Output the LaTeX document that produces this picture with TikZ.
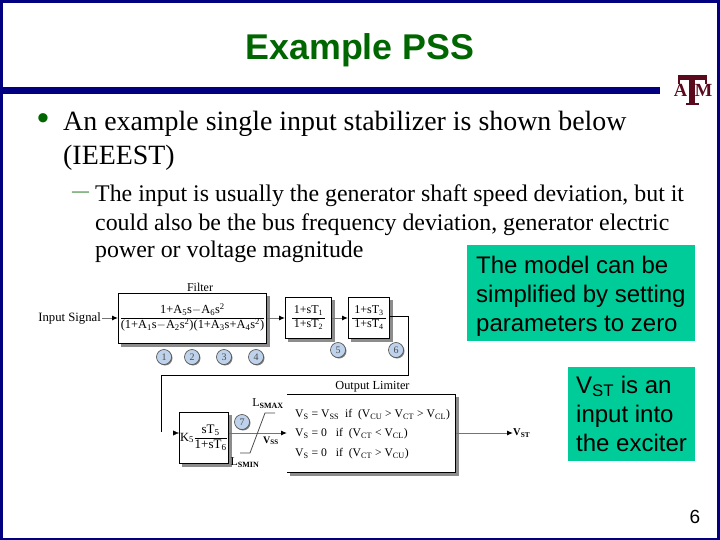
\documentclass[tikz,border=0pt]{standalone}
\usepackage{fontspec}
\setmainfont{Liberation Serif}
\newfontfamily\arialf{Liberation Sans}
\usetikzlibrary{arrows.meta,shadows}
\definecolor{navyb}{RGB}{0,0,128}
\definecolor{titlegreen}{RGB}{0,102,0}
\definecolor{notegreen}{RGB}{0,204,153}
\definecolor{maroonb}{RGB}{91,10,30}
\definecolor{circb}{RGB}{190,210,235}
\newcommand{\fsz}[1]{\fontsize{#1}{#1}\selectfont}
\newcommand{\sbs}[1]{\textsubscript{#1}}
\newcommand{\sps}[1]{\textsuperscript{#1}}
\newcommand{\frc}[2]{\renewcommand{\arraystretch}{1.15}\setlength{\tabcolsep}{1pt}\begin{tabular}{@{}c@{}}#1\\\hline #2\end{tabular}}
\tikzset{
 x=1pt,y=1pt,
 body/.style={anchor=base west,inner sep=0,font=\fsz{27.9},text=black},
 sub/.style={anchor=base west,inner sep=0,font=\fsz{23.85},text=black},
 notetxt/.style={anchor=base west,inner sep=0,font=\arialf\fsz{24},text=black},
 tfbox/.style={draw=black,line width=0.9pt,fill=white,inner sep=0,anchor=north west},
 shade/.style={fill=black!45,draw=none},
 num/.style={circle,draw=black!70,line width=0.6pt,fill=circb,minimum size=15pt,inner sep=0,font=\fsz{10},text=black!70,drop shadow={shadow xshift=1pt,shadow yshift=-1pt,fill=black!50,opacity=1}},
 lab/.style={inner sep=0,font=\fsz{12},text=black},
 wire/.style={draw=black,line width=0.8pt},
 sig/.style={draw=black!55,line width=1pt,-{Latex[black,length=6pt,width=5pt]}},
 logo/.style={inner sep=0,font=\bfseries\fsz{18.5},text=maroonb}
}
\begin{document}
\begin{tikzpicture}
\useasboundingbox (0,0) rectangle (720,-540);
\fill[white] (0,0) rectangle (720,-540);
% frame
\fill[navyb] (0,0) rectangle (720,-3);
\fill[navyb] (0,0) rectangle (3,-540);
\fill[navyb] (717,0) rectangle (720,-540);
\fill[navyb] (0,-538) rectangle (720,-540);
\fill[navyb] (3,-87) rectangle (660,-94);
% title
\node[inner sep=0,anchor=base,font=\arialf\bfseries\fsz{35.8},text=titlegreen] (title) at (360,-60) {Example PSS};
% logo
\fill[maroonb] (678,-75) rectangle (707,-80);
\fill[maroonb] (678,-75) rectangle (680,-84);
\fill[maroonb] (705,-75) rectangle (707,-84);
\fill[maroonb] (688.5,-75) rectangle (695,-103);
\fill[maroonb] (686,-103) rectangle (699,-105.5);
\node[logo,anchor=base] (logoa) at (680.5,-97) {A};
\node[logo,anchor=base] (logom) at (703.5,-97) {M};
% text
\node[inner sep=0,anchor=base,font=\arialf\fsz{34},text=titlegreen] (bul) at (43,-130) {•};
\node[body] (l1) at (63,-131) {An example single input stabilizer is shown below};
\node[body] (l2) at (63,-165) {(IEEEST)};
\node[inner sep=0,anchor=base west,font=\fsz{17},text=titlegreen] (dash) at (72,-196.3) {—};
\node[sub] (s1) at (95,-202) {The input is usually the generator shaft speed deviation, but it};
\node[sub] (s2) at (95,-230) {could also be the bus frequency deviation, generator electric};
\node[sub] (s3) at (95,-258) {power or voltage magnitude};
% notes
\fill[notegreen] (467,-245) rectangle (695,-341);
\node[notetxt] (n1) at (476,-273) {The model can be};
\node[notetxt] (n2) at (476,-302) {simplified by setting};
\node[notetxt] (n3) at (476,-331) {parameters to zero};
\fill[notegreen] (568,-367) rectangle (695,-461);
\node[notetxt] (n4) at (576,-393) {V\sbs{ST} is an};
\node[notetxt] (n5) at (576,-422) {input into};
\node[notetxt] (n6) at (576,-451) {the exciter};
\node[inner sep=0,anchor=base,font=\arialf\fsz{19}] (pg) at (695,-523) {6};
% shadows
\fill[shade] (121,-296) rectangle (270,-347);
\fill[shade] (288,-300) rectangle (335,-342);
\fill[shade] (351,-300) rectangle (393,-342);
\fill[shade] (182,-415) rectangle (232,-467);
\fill[shade] (290,-397) rectangle (459,-476);
% boxes
\node[tfbox,minimum width=148pt,minimum height=50pt] (filter) at (118,-293) {};
\node[lab,font=\fsz{12.4}] at (filter.center) {\frc{1+A\sbs{5}s$-$A\sbs{6}s\sps{2}}{(1+A\sbs{1}s$-$A\sbs{2}s\sps{2})(1+A\sbs{3}s+A\sbs{4}s\sps{2})}};
\node[tfbox,minimum width=46pt,minimum height=41pt] (lead1) at (285,-297) {};
\node[lab,font=\fsz{12}] at (lead1.center) {\frc{\,1+sT\sbs{1}\,}{1+sT\sbs{2}}};
\node[tfbox,minimum width=41pt,minimum height=41pt] (lead2) at (348,-297) {};
\node[lab,font=\fsz{12}] at (lead2.center) {\frc{\,1+sT\sbs{3}\,}{1+sT\sbs{4}}};
\node[tfbox,minimum width=49pt,minimum height=51pt] (wash) at (179,-412) {};
\node[lab,font=\fsz{12.5},anchor=west] at ([xshift=1pt]wash.west) {K\sbs{5}};
\node[lab,font=\fsz{13},anchor=west] at ([xshift=15.5pt]wash.west) {\frc{sT\sbs{5}}{1+sT\sbs{6}}};
\node[tfbox,minimum width=168pt,minimum height=78pt,draw=none] (limit) at (287,-394) {};
\draw[black,line width=0.9pt] (limit.north west) -- (limit.north east) -- (limit.south east) -- (limit.south west);
% labels
\node[lab] (flab) at (200,-287) {Filter};
\node[lab,anchor=east,font=\fsz{12.7}] (inp) at (101,-318) {Input Signal};
\coordinate (inpe) at (102,-318);
\node[lab,font=\fsz{12.3}] (olab) at (372.5,-387) {Output Limiter};
\node[lab,anchor=west,font=\fsz{11.7}] (c1) at (295,-415) {V\sbs{S} = V\sbs{SS}\ \ if\ \ (V\sbs{CU} > V\sbs{CT} > V\sbs{CL})};
\node[lab,anchor=west,font=\fsz{11.7}] (c2) at (295,-434) {V\sbs{S} = 0\ \ \ if\ \ (V\sbs{CT} < V\sbs{CL})};
\node[lab,anchor=west,font=\fsz{11.7}] (c3) at (295,-454) {V\sbs{S} = 0\ \ \ if\ \ (V\sbs{CT} > V\sbs{CU})};
\node[lab,anchor=west,font=\bfseries\fsz{10.5}] (vst) at (513,-433) {V\sbs{ST}};
\node[lab,font=\fsz{12}] (lmax) at (268,-404) {L{\bfseries\sbs{SMAX}}};
\node[lab,font=\bfseries\fsz{10}] (vss) at (271,-441) {V\sbs{SS}};
\node[lab,font=\fsz{12}] (lmin) at (245,-463) {L{\bfseries\sbs{SMIN}}};
% circles
\node[num] (c_1) at (164,-357) {1};
\node[num] (c_2) at (192,-357) {2};
\node[num] (c_3) at (224,-357) {3};
\node[num] (c_4) at (256,-357) {4};
\node[num] (c_5) at (338,-350) {5};
\node[num] (c_6) at (396,-350) {6};
\node[num] (c_7) at (242,-422) {7};
% connectors
\draw[sig] (inpe) -- (filter.west |- inpe);
\draw[sig] (filter.east |- 0,-318) -- (lead1.west |- 0,-318);
\draw[sig] (lead1.east |- 0,-318) -- (lead2.west |- 0,-318);
\coordinate (w1) at (408,-316);
\coordinate (w2) at (408,-375);
\coordinate (w3) at (161,-375);
\coordinate (w4) at (161,-432);
\coordinate (w5) at (172,-433);
\draw[wire] (lead2.east |- w1) -- (w1) -- (w2) -- (w3) -- (w4);
\draw[draw=white,line width=0.2pt,-{Latex[black,length=6pt,width=5pt]}] (w5) -- (wash.west |- w5);
\draw[sig] (wash.east |- 0,-433) -- (limit.west |- 0,-433);
\draw[sig] (limit.east |- vst) -- (vst.west);
% limiter
\coordinate (p1) at (240,-453);
\coordinate (p2) at (250,-453);
\coordinate (p3) at (265,-413);
\coordinate (p4) at (275,-413);
\draw[black!70,line width=0.8pt] (p1) -- (p2) -- (p3) -- (p4);
\end{tikzpicture}
\end{document}
